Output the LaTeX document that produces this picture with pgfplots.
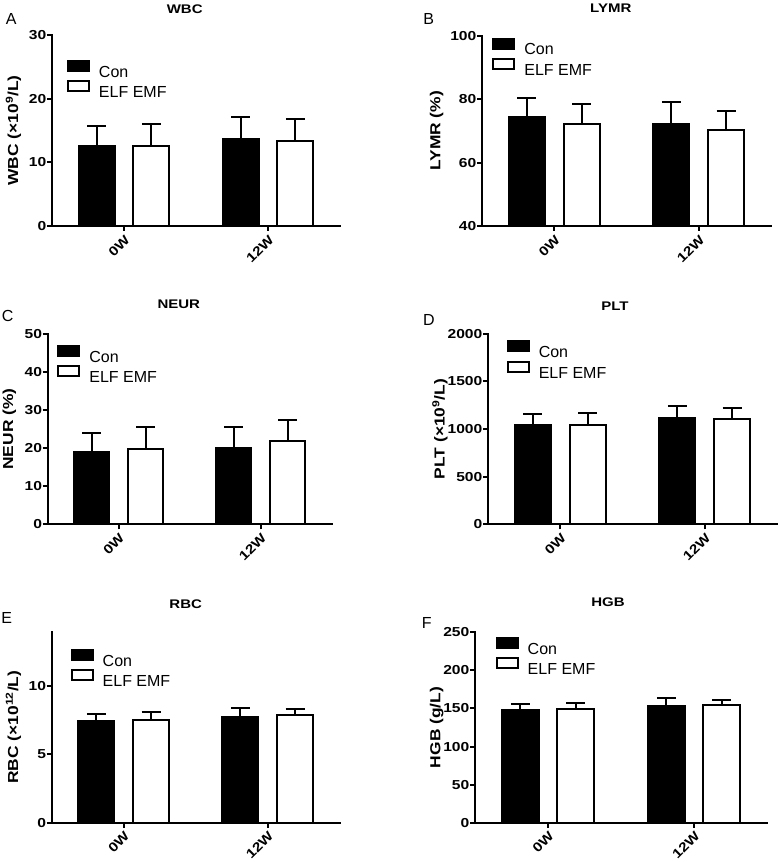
\documentclass[border=0pt]{standalone}
\usepackage{fontspec}
\setmainfont{Liberation Sans}[BoldFeatures={FakeStretch=1.2}]
\usepackage{pgfplots}
\pgfplotsset{compat=1.18}
\newcommand{\fs}[1]{\fontsize{#1}{#1}\selectfont}

\pgfplotsset{
  panel/.style={
    scale only axis,
    xmin=-0.5, xmax=1.5,
    axis x line*=bottom, axis y line*=left,
    axis line style={line width=2pt, line cap=rect},
    every tick/.style={line width=2pt, black},
    tick align=outside,
    major tick length=5pt,
    xtick={0,1}, xticklabels={0W,12W},
    xticklabel shift=1.5pt,
    xticklabel style={rotate=45, anchor=north east, font=\fs{13}\bfseries, inner sep=1pt},
    yticklabel style={font=\fs{13}\bfseries, inner sep=0.5pt},
    ylabel style={font=\fs{14.5}\bfseries, anchor=center},
    /pgf/number format/assume math mode=true,
    /pgf/number format/1000 sep={},
    legend cell align=left,
    legend style={draw=none, fill=none, anchor=north west, inner sep=0pt, outer sep=0pt,
      font=\fs{16}, row sep=3pt, column sep=9pt,
      nodes={inner sep=0pt, text height=11.5pt, text depth=0pt}},
    legend image code/.code={\draw[##1, line width=2pt] (0pt,0.6pt) rectangle (21pt,10.6pt);},
  },
  con/.style={ybar, bar width=0.25, bar shift=0, fill=black, draw=black, line width=2pt,
    error bars/.cd, y dir=plus, y explicit, error bar style={line width=2pt, black},
    error mark options={rotate=90, mark size=9.5pt, line width=2pt, black}},
  elf/.style={ybar, bar width=0.25, bar shift=0, fill=white, draw=black, line width=2pt,
    error bars/.cd, y dir=plus, y explicit, error bar style={line width=2pt, black},
    error mark options={rotate=90, mark size=9.5pt, line width=2pt, black}},
}

\begin{document}
\begin{tikzpicture}
\path[use as bounding box] (0pt,0pt) rectangle (780pt,862pt);

% A WBC
\begin{axis}[panel, at={(52pt,636pt)}, anchor=south west, width=288pt, height=191pt,
  ymin=0, ymax=30, ytick={0,10,20,30},
  ylabel={WBC (×10\textsuperscript{9}/L)},
  ylabel style={at={(axis description cs:-0.134,0.5)}},
  legend style={at={(axis description cs:0.052,0.869)}}]
\addplot[con] coordinates {(-0.19,12.6) +- (0,3.05) (0.81,13.7) +- (0,3.4)};
\addplot[elf] coordinates {(0.19,12.55) +- (0,3.4) (1.19,13.3) +- (0,3.45)};
\legend{Con, ELF EMF}
\end{axis}

% B LYMR
\begin{axis}[panel, at={(482pt,636pt)}, anchor=south west, width=289pt, height=190.3pt,
  ymin=40, ymax=100, ytick={40,60,80,100},
  ylabel={LYMR (\%)},
  ylabel style={at={(axis description cs:-0.157,0.5)}},
  legend style={at={(axis description cs:0.036,0.99)}}]
\addplot[con] coordinates {(-0.19,74.4) +- (0,6.1) (0.81,72.2) +- (0,6.8)};
\addplot[elf] coordinates {(0.19,72.3) +- (0,6.2) (1.19,70.3) +- (0,6.1)};
\legend{Con, ELF EMF}
\end{axis}

% C NEUR
\begin{axis}[panel, at={(47.7pt,337.7pt)}, anchor=south west, width=284pt, height=190.6pt,
  ymin=0, ymax=50, ytick={0,10,20,30,40,50},
  ylabel={NEUR (\%)},
  ylabel style={at={(axis description cs:-0.135,0.5)}},
  legend style={at={(axis description cs:0.034,0.941)}}]
\addplot[con] coordinates {(-0.19,18.9) +- (0,5.1) (0.81,20.0) +- (0,5.5)};
\addplot[elf] coordinates {(0.19,19.7) +- (0,5.7) (1.19,21.9) +- (0,5.5)};
\legend{Con, ELF EMF}
\end{axis}

% D PLT
\begin{axis}[panel, at={(488pt,337.7pt)}, anchor=south west, width=289pt, height=190.6pt,
  ymin=0, ymax=2000, ytick={0,500,1000,1500,2000},
  ylabel={PLT (×10\textsuperscript{9}/L)},
  ylabel style={at={(axis description cs:-0.166,0.5)}},
  legend style={at={(axis description cs:0.065,0.965)}}]
\addplot[con] coordinates {(-0.19,1042) +- (0,112) (0.81,1115) +- (0,130)};
\addplot[elf] coordinates {(0.19,1045) +- (0,123) (1.19,1108) +- (0,109)};
\legend{Con, ELF EMF}
\end{axis}

% E RBC
\begin{axis}[panel, at={(51.7pt,39.3pt)}, anchor=south west, width=288pt, height=191pt,
  ymin=0, ymax=14, ytick={0,5,10},
  ylabel={RBC (×10\textsuperscript{12}/L)},
  ylabel style={at={(axis description cs:-0.133,0.5)}},
  legend style={at={(axis description cs:0.066,0.91)}}]
\addplot[con] coordinates {(-0.19,7.45) +- (0,0.54) (0.81,7.77) +- (0,0.64)};
\addplot[elf] coordinates {(0.19,7.55) +- (0,0.56) (1.19,7.92) +- (0,0.39)};
\legend{Con, ELF EMF}
\end{axis}

% F HGB
\begin{axis}[panel, at={(475pt,39.3pt)}, anchor=south west, width=292pt, height=190.4pt,
  ymin=0, ymax=250, ytick={0,50,100,150,200,250},
  ylabel={HGB (g/L)},
  ylabel style={at={(axis description cs:-0.131,0.5)}},
  legend style={at={(axis description cs:0.071,0.975)}}]
\addplot[con] coordinates {(-0.19,147.5) +- (0,7.9) (0.81,153.7) +- (0,9.6)};
\addplot[elf] coordinates {(0.19,148.8) +- (0,8.3) (1.19,155.0) +- (0,6.6)};
\legend{Con, ELF EMF}
\end{axis}

% titles
\begin{scope}[every node/.style={font=\fs{12.5}\bfseries, inner sep=0pt}]
\node at (184.7pt,853.2pt) {WBC};
\node at (610.8pt,854pt) {LYMR};
\node at (178.8pt,557.3pt) {NEUR};
\node at (615pt,556.2pt) {PLT};
\node at (185.7pt,257.8pt) {RBC};
\node at (608pt,259.5pt) {HGB};
\end{scope}
% panel letters
\begin{scope}[every node/.style={font=\fs{16}, inner sep=0pt}]
\node at (11.3pt,842.5pt) {A};
\node at (428.8pt,843.3pt) {B};
\node at (7.7pt,545.8pt) {C};
\node at (428.8pt,541.5pt) {D};
\node at (6.7pt,243.7pt) {E};
\node at (426.7pt,239.2pt) {F};
\end{scope}
\end{tikzpicture}
\end{document}
